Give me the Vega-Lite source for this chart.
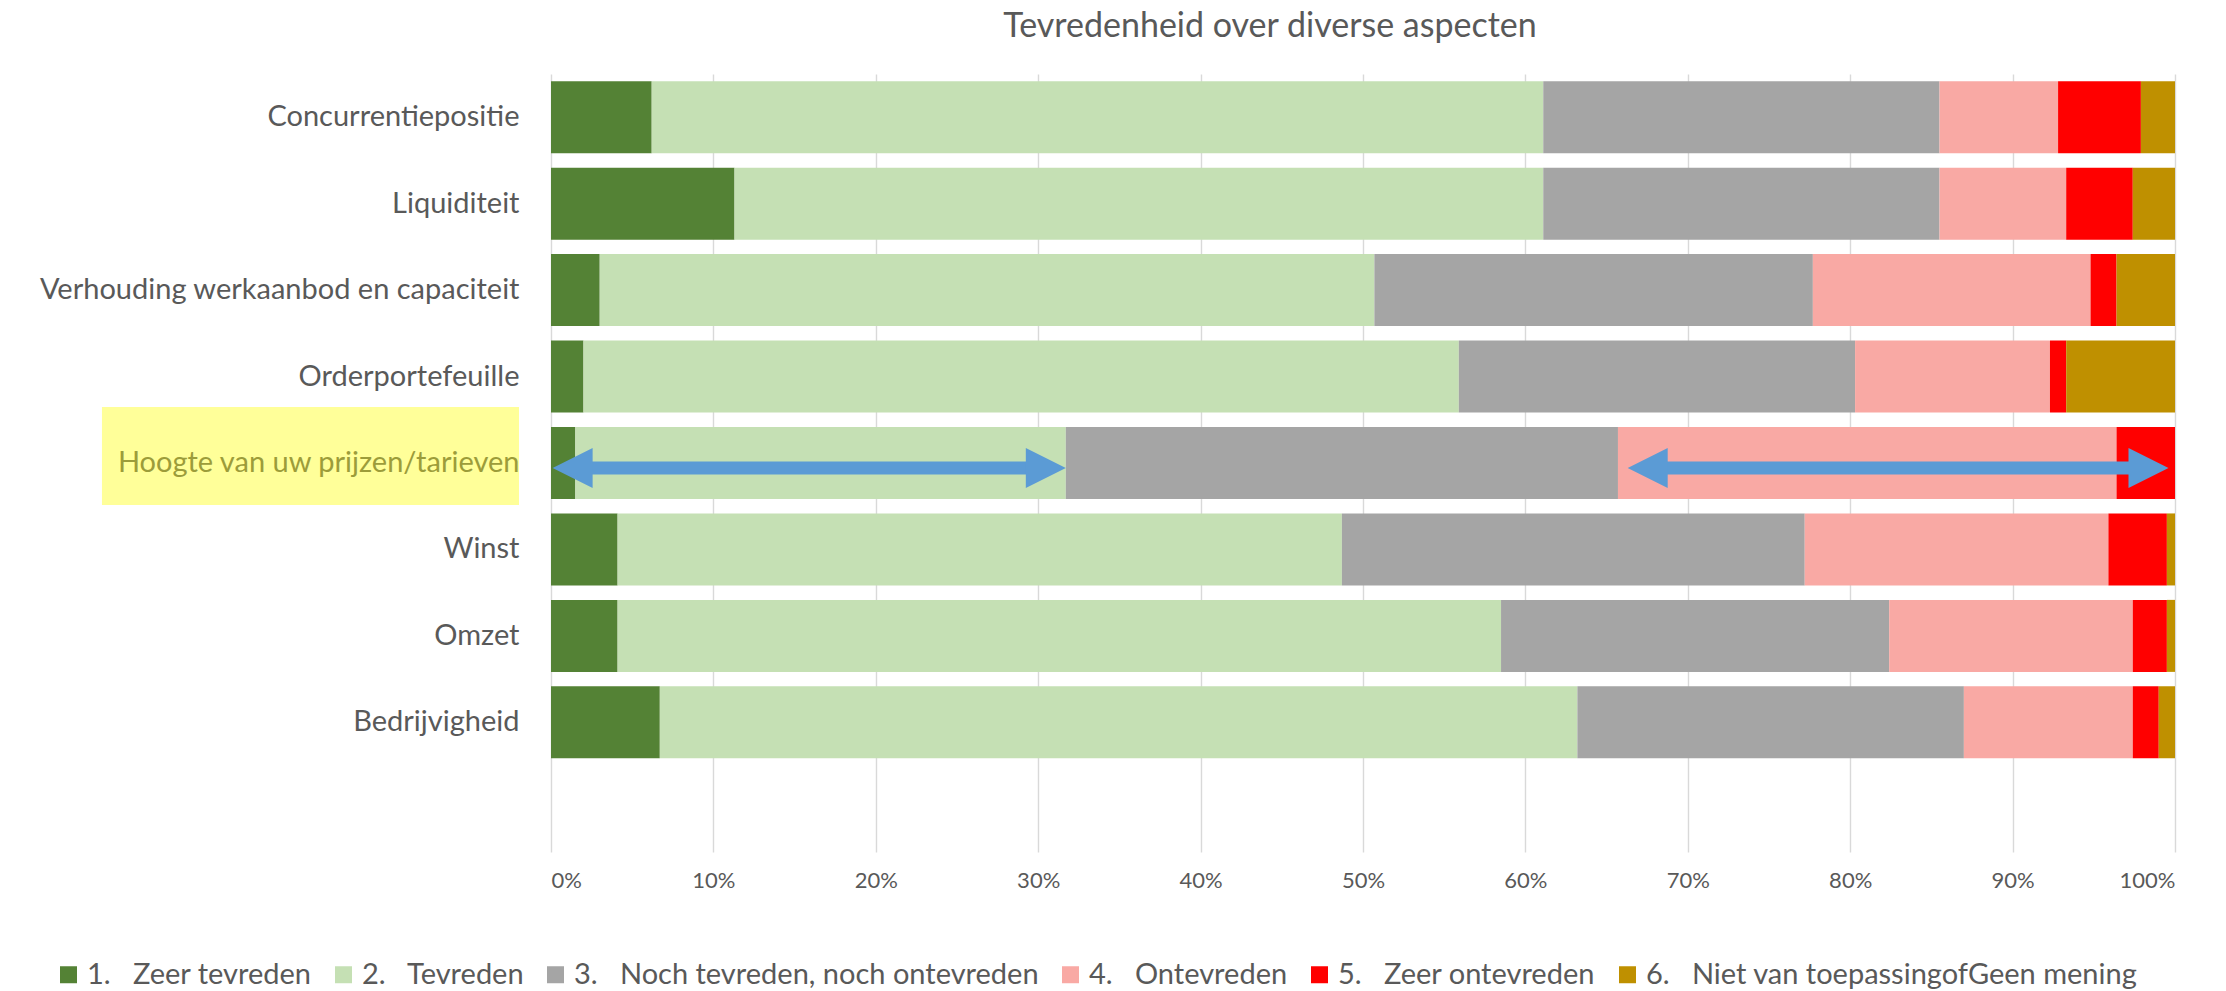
{
  "$schema": "https://vega.github.io/schema/vega-lite/v6.json",
  "width": 1624,
  "height": 778,
  "autosize": {"type": "none"},
  "padding": {"left": 551, "top": 74, "right": 51, "bottom": 139},
  "background": "white",
  "config": {"view": {"stroke": null}, "font": "Lato"},
  "title": {
    "text": "Tevredenheid over diverse aspecten",
    "font": "Lato",
    "fontSize": 34,
    "fontWeight": "normal",
    "color": "#595959",
    "anchor": "middle",
    "frame": "group",
    "dx": -93,
    "offset": 30
  },
  "datasets": {
    "bars": [
      {"aspect": "Concurrentiepositie", "series": "1.\u00a0\u00a0\u00a0Zeer tevreden", "k": 1, "pct": 6.2},
      {"aspect": "Concurrentiepositie", "series": "2.\u00a0\u00a0\u00a0Tevreden", "k": 2, "pct": 54.9},
      {"aspect": "Concurrentiepositie", "series": "3.\u00a0\u00a0\u00a0Noch tevreden, noch ontevreden", "k": 3, "pct": 24.4},
      {"aspect": "Concurrentiepositie", "series": "4.\u00a0\u00a0\u00a0Ontevreden", "k": 4, "pct": 7.3},
      {"aspect": "Concurrentiepositie", "series": "5.\u00a0\u00a0\u00a0Zeer ontevreden", "k": 5, "pct": 5.1},
      {"aspect": "Concurrentiepositie", "series": "6.\u00a0\u00a0\u00a0Niet van toepassingofGeen mening", "k": 6, "pct": 2.1},
      {"aspect": "Liquiditeit", "series": "1.\u00a0\u00a0\u00a0Zeer tevreden", "k": 1, "pct": 11.3},
      {"aspect": "Liquiditeit", "series": "2.\u00a0\u00a0\u00a0Tevreden", "k": 2, "pct": 49.8},
      {"aspect": "Liquiditeit", "series": "3.\u00a0\u00a0\u00a0Noch tevreden, noch ontevreden", "k": 3, "pct": 24.4},
      {"aspect": "Liquiditeit", "series": "4.\u00a0\u00a0\u00a0Ontevreden", "k": 4, "pct": 7.8},
      {"aspect": "Liquiditeit", "series": "5.\u00a0\u00a0\u00a0Zeer ontevreden", "k": 5, "pct": 4.1},
      {"aspect": "Liquiditeit", "series": "6.\u00a0\u00a0\u00a0Niet van toepassingofGeen mening", "k": 6, "pct": 2.6},
      {"aspect": "Verhouding werkaanbod en capaciteit\u00a0", "series": "1.\u00a0\u00a0\u00a0Zeer tevreden", "k": 1, "pct": 3.0},
      {"aspect": "Verhouding werkaanbod en capaciteit\u00a0", "series": "2.\u00a0\u00a0\u00a0Tevreden", "k": 2, "pct": 47.7},
      {"aspect": "Verhouding werkaanbod en capaciteit\u00a0", "series": "3.\u00a0\u00a0\u00a0Noch tevreden, noch ontevreden", "k": 3, "pct": 27.0},
      {"aspect": "Verhouding werkaanbod en capaciteit\u00a0", "series": "4.\u00a0\u00a0\u00a0Ontevreden", "k": 4, "pct": 17.1},
      {"aspect": "Verhouding werkaanbod en capaciteit\u00a0", "series": "5.\u00a0\u00a0\u00a0Zeer ontevreden", "k": 5, "pct": 1.6},
      {"aspect": "Verhouding werkaanbod en capaciteit\u00a0", "series": "6.\u00a0\u00a0\u00a0Niet van toepassingofGeen mening", "k": 6, "pct": 3.6},
      {"aspect": "Orderportefeuille", "series": "1.\u00a0\u00a0\u00a0Zeer tevreden", "k": 1, "pct": 2.0},
      {"aspect": "Orderportefeuille", "series": "2.\u00a0\u00a0\u00a0Tevreden", "k": 2, "pct": 53.9},
      {"aspect": "Orderportefeuille", "series": "3.\u00a0\u00a0\u00a0Noch tevreden, noch ontevreden", "k": 3, "pct": 24.4},
      {"aspect": "Orderportefeuille", "series": "4.\u00a0\u00a0\u00a0Ontevreden", "k": 4, "pct": 12.0},
      {"aspect": "Orderportefeuille", "series": "5.\u00a0\u00a0\u00a0Zeer ontevreden", "k": 5, "pct": 1.0},
      {"aspect": "Orderportefeuille", "series": "6.\u00a0\u00a0\u00a0Niet van toepassingofGeen mening", "k": 6, "pct": 6.7},
      {"aspect": "Hoogte van uw prijzen/tarieven", "series": "1.\u00a0\u00a0\u00a0Zeer tevreden", "k": 1, "pct": 1.5},
      {"aspect": "Hoogte van uw prijzen/tarieven", "series": "2.\u00a0\u00a0\u00a0Tevreden", "k": 2, "pct": 30.2},
      {"aspect": "Hoogte van uw prijzen/tarieven", "series": "3.\u00a0\u00a0\u00a0Noch tevreden, noch ontevreden", "k": 3, "pct": 34.0},
      {"aspect": "Hoogte van uw prijzen/tarieven", "series": "4.\u00a0\u00a0\u00a0Ontevreden", "k": 4, "pct": 30.7},
      {"aspect": "Hoogte van uw prijzen/tarieven", "series": "5.\u00a0\u00a0\u00a0Zeer ontevreden", "k": 5, "pct": 3.6},
      {"aspect": "Hoogte van uw prijzen/tarieven", "series": "6.\u00a0\u00a0\u00a0Niet van toepassingofGeen mening", "k": 6, "pct": 0.0},
      {"aspect": "Winst", "series": "1.\u00a0\u00a0\u00a0Zeer tevreden", "k": 1, "pct": 4.1},
      {"aspect": "Winst", "series": "2.\u00a0\u00a0\u00a0Tevreden", "k": 2, "pct": 44.6},
      {"aspect": "Winst", "series": "3.\u00a0\u00a0\u00a0Noch tevreden, noch ontevreden", "k": 3, "pct": 28.5},
      {"aspect": "Winst", "series": "4.\u00a0\u00a0\u00a0Ontevreden", "k": 4, "pct": 18.7},
      {"aspect": "Winst", "series": "5.\u00a0\u00a0\u00a0Zeer ontevreden", "k": 5, "pct": 3.6},
      {"aspect": "Winst", "series": "6.\u00a0\u00a0\u00a0Niet van toepassingofGeen mening", "k": 6, "pct": 0.5},
      {"aspect": "Omzet", "series": "1.\u00a0\u00a0\u00a0Zeer tevreden", "k": 1, "pct": 4.1},
      {"aspect": "Omzet", "series": "2.\u00a0\u00a0\u00a0Tevreden", "k": 2, "pct": 54.4},
      {"aspect": "Omzet", "series": "3.\u00a0\u00a0\u00a0Noch tevreden, noch ontevreden", "k": 3, "pct": 23.9},
      {"aspect": "Omzet", "series": "4.\u00a0\u00a0\u00a0Ontevreden", "k": 4, "pct": 15.0},
      {"aspect": "Omzet", "series": "5.\u00a0\u00a0\u00a0Zeer ontevreden", "k": 5, "pct": 2.1},
      {"aspect": "Omzet", "series": "6.\u00a0\u00a0\u00a0Niet van toepassingofGeen mening", "k": 6, "pct": 0.5},
      {"aspect": "Bedrijvigheid\u00a0", "series": "1.\u00a0\u00a0\u00a0Zeer tevreden", "k": 1, "pct": 6.7},
      {"aspect": "Bedrijvigheid\u00a0", "series": "2.\u00a0\u00a0\u00a0Tevreden", "k": 2, "pct": 56.5},
      {"aspect": "Bedrijvigheid\u00a0", "series": "3.\u00a0\u00a0\u00a0Noch tevreden, noch ontevreden", "k": 3, "pct": 23.8},
      {"aspect": "Bedrijvigheid\u00a0", "series": "4.\u00a0\u00a0\u00a0Ontevreden", "k": 4, "pct": 10.4},
      {"aspect": "Bedrijvigheid\u00a0", "series": "5.\u00a0\u00a0\u00a0Zeer ontevreden", "k": 5, "pct": 1.6},
      {"aspect": "Bedrijvigheid\u00a0", "series": "6.\u00a0\u00a0\u00a0Niet van toepassingofGeen mening", "k": 6, "pct": 1.0}
    ],
    "highlight": [
      {"aspect": "Hoogte van uw prijzen/tarieven", "x1": -27.65, "x2": -1.97}
    ],
    "shafts": [
      {"aspect": "Hoogte van uw prijzen/tarieven", "s1": 2.0, "s2": 29.6},
      {"aspect": "Hoogte van uw prijzen/tarieven", "s1": 68.3, "s2": 97.5}
    ],
    "heads": [
      {"aspect": "Hoogte van uw prijzen/tarieven", "tip": 0.1, "dir": "left"},
      {"aspect": "Hoogte van uw prijzen/tarieven", "tip": 31.7, "dir": "right"},
      {"aspect": "Hoogte van uw prijzen/tarieven", "tip": 66.3, "dir": "left"},
      {"aspect": "Hoogte van uw prijzen/tarieven", "tip": 99.6, "dir": "right"}
    ]
  },
  "encoding": {
    "y": {
      "field": "aspect",
      "type": "nominal",
      "scale": {
        "domain": [
          "Concurrentiepositie",
          "Liquiditeit",
          "Verhouding werkaanbod en capaciteit\u00a0",
          "Orderportefeuille",
          "Hoogte van uw prijzen/tarieven",
          "Winst",
          "Omzet",
          "Bedrijvigheid\u00a0",
          " "
        ],
        "paddingInner": 0.167,
        "paddingOuter": 0.0835
      },
      "axis": {
        "title": null,
        "ticks": false,
        "domain": false,
        "grid": false,
        "labelFont": "Lato",
        "labelFontSize": 29,
        "labelPadding": 32,
        "labelLimit": 700,
        "labelColor": {
          "condition": {"test": "datum.value === 'Hoogte van uw prijzen/tarieven'", "value": "#9C9C3A"},
          "value": "#595959"
        },
        "zindex": 1
      }
    }
  },
  "layer": [
    {
      "data": {"name": "highlight"},
      "mark": {"type": "bar", "color": "#FFFF99", "size": 98, "yOffset": -7},
      "encoding": {
        "x": {"field": "x1", "type": "quantitative", "title": null},
        "x2": {"field": "x2"}
      }
    },
    {
      "data": {"name": "bars"},
      "mark": {"type": "bar"},
      "encoding": {
        "x": {
          "field": "pct",
          "type": "quantitative",
          "stack": "zero",
          "scale": {"domain": [0, 100], "nice": false, "clamp": false},
          "axis": {
            "title": null,
            "values": [0, 10, 20, 30, 40, 50, 60, 70, 80, 90, 100],
            "labelExpr": "datum.value + '%'",
            "grid": true,
            "gridColor": "#D9D9D9",
            "gridWidth": 1.4,
            "ticks": false,
            "domain": false,
            "labelFont": "Lato",
            "labelFontSize": 22,
            "labelColor": "#595959",
            "labelPadding": 18,
            "zindex": 0
          }
        },
        "order": {"field": "k", "type": "quantitative"},
        "color": {
          "field": "series",
          "type": "nominal",
          "scale": {
            "domain": [
              "1.\u00a0\u00a0\u00a0Zeer tevreden",
              "2.\u00a0\u00a0\u00a0Tevreden",
              "3.\u00a0\u00a0\u00a0Noch tevreden, noch ontevreden",
              "4.\u00a0\u00a0\u00a0Ontevreden",
              "5.\u00a0\u00a0\u00a0Zeer ontevreden",
              "6.\u00a0\u00a0\u00a0Niet van toepassingofGeen mening"
            ],
            "range": ["#548235", "#C5E0B4", "#A5A5A5", "#F9A9A4", "#FF0000", "#BF9000"]
          },
          "legend": {
            "title": null,
            "orient": "none",
            "legendX": -497,
            "legendY": 886,
            "direction": "horizontal",
            "symbolType": "square",
            "symbolSize": 289,
            "symbolStrokeWidth": 0,
            "labelFont": "Lato",
            "labelFontSize": 29,
            "labelColor": "#595959",
            "labelOffset": 4,
            "labelLimit": 800,
            "columnPadding": 17,
            "padding": 0
          }
        }
      }
    },
    {
      "data": {"name": "shafts"},
      "mark": {"type": "rule", "color": "#5B9BD5", "strokeWidth": 13, "yOffset": 5, "strokeCap": "butt"},
      "encoding": {
        "x": {"field": "s1", "type": "quantitative", "title": null},
        "x2": {"field": "s2"}
      }
    },
    {
      "data": {"name": "heads"},
      "mark": {"type": "point", "filled": true, "opacity": 1, "color": "#5B9BD5", "size": 1600, "yOffset": 5},
      "encoding": {
        "x": {"field": "tip", "type": "quantitative", "title": null},
        "shape": {
          "field": "dir",
          "type": "nominal",
          "scale": {"domain": ["left", "right"], "range": ["M0,0L2,-1L2,1Z", "M0,0L-2,-1L-2,1Z"]},
          "legend": null
        }
      }
    }
  ]
}
